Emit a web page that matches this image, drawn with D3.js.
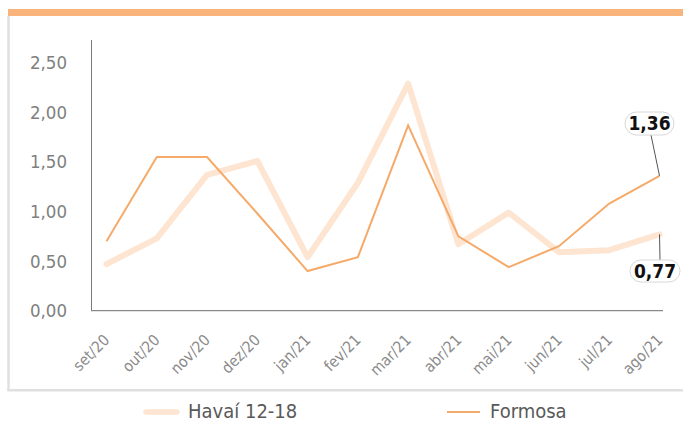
<!DOCTYPE html>
<html><head><meta charset="utf-8">
<script src="https://cdn.jsdelivr.net/npm/d3@7"></script>
<style>
html,body{margin:0;padding:0;background:#fff;}
svg{display:block;}
text{font-family:"Liberation Sans Narrow","DejaVu Sans Condensed","Roboto Condensed",sans-serif;}
</style></head>
<body>
<svg id="chart" width="683" height="422"></svg>
<script>
const months = ["set/20","out/20","nov/20","dez/20","jan/21","fev/21","mar/21","abr/21","mai/21","jun/21","jul/21","ago/21"];
const havai = [0.47,0.73,1.37,1.51,0.54,1.29,2.29,0.67,0.99,0.59,0.61,0.77];
const formosa = [0.70,1.55,1.55,0.98,0.40,0.54,1.87,0.75,0.44,0.65,1.08,1.36];
const yTicks = [0,0.5,1,1.5,2,2.5];
const seriesNames = ["Havaí 12-18","Formosa"];

const svg = d3.select("#chart");
const fmt = v => d3.format(".2f")(v).replace(".", ",");

// frame
svg.append("rect").attr("x",8).attr("y",9).attr("width",675).attr("height",7).attr("fill","#f8b47b");
svg.append("line").attr("x1",8.5).attr("x2",8.5).attr("y1",16).attr("y2",391).attr("stroke","#e0e0e0").attr("stroke-width",2.5);
svg.append("line").attr("x1",7.5).attr("x2",683).attr("y1",390.2).attr("y2",390.2).attr("stroke","#e0e0e0").attr("stroke-width",2.5);

const x = d3.scalePoint().domain(months).range([106.5, 659.5]);
const y = d3.scaleLinear().domain([0, 2.73]).range([310.7, 40]);

// y labels
svg.append("g").selectAll("text").data(yTicks).join("text")
  .attr("x",67).attr("y",d=>y(d)).attr("dy","0.35em").attr("text-anchor","end")
  .attr("fill","#808080").attr("font-size",18.5).text(fmt);

// axes lines
svg.append("line").attr("x1",91.5).attr("x2",91.5).attr("y1",40).attr("y2",311).attr("stroke","#7a7a7a").attr("stroke-width",1);
svg.append("line").attr("x1",91).attr("x2",663).attr("y1",310.7).attr("y2",310.7).attr("stroke","#8a8a8a").attr("stroke-width",1.2);

// x labels
svg.append("g").selectAll("text").data(months).join("text")
  .attr("transform",d=>`translate(${x(d)+4},341) rotate(-45)`)
  .attr("text-anchor","end").attr("fill","#8a8a8a").attr("font-size",15.5).text(d=>d);

const line = d3.line().x((d,i)=>x(months[i])).y(d=>y(d));

svg.append("path").datum(havai).attr("d",line).attr("fill","none")
  .attr("stroke","#fde5d1").attr("stroke-width",6).attr("stroke-linejoin","round").attr("stroke-linecap","round");
svg.append("path").datum(formosa).attr("d",line).attr("fill","none")
  .attr("stroke","#f5aa69").attr("stroke-width",2).attr("stroke-linejoin","miter");

// callouts
const last = months.length-1;
function callout(val, cx, cy, w, h, lx1, ly1) {
  svg.append("line").attr("x1",lx1).attr("y1",ly1).attr("x2",x(months[last])).attr("y2",y(val))
    .attr("stroke","#555").attr("stroke-width",1);
  svg.append("rect").attr("x",cx-w/2).attr("y",cy-h/2).attr("width",w).attr("height",h)
    .attr("rx",h/2).attr("fill","#fff").attr("stroke","#d8d8d8").attr("stroke-width",1);
  svg.append("text").attr("x",cx).attr("y",cy).attr("dy","0.36em").attr("text-anchor","middle")
    .attr("font-weight","bold").attr("font-size",19).attr("fill","#111").text(fmt(val));
}
callout(formosa[last], 649.5, 123.5, 49, 23, 651, 135);
callout(havai[last], 655, 271, 50, 22, 660, 260);

// legend
const lg = svg.append("g");
lg.append("line").attr("x1",146).attr("x2",177).attr("y1",412).attr("y2",412)
  .attr("stroke","#fde5d1").attr("stroke-width",5.5).attr("stroke-linecap","round");
lg.append("text").attr("x",188).attr("y",411).attr("dy","0.35em").attr("font-size",20).attr("fill","#595959").text(seriesNames[0]);
lg.append("line").attr("x1",447).attr("x2",480).attr("y1",412).attr("y2",412)
  .attr("stroke","#f5aa69").attr("stroke-width",2);
lg.append("text").attr("x",490).attr("y",411).attr("dy","0.35em").attr("font-size",20).attr("fill","#595959").text(seriesNames[1]);
</script>
</body></html>
